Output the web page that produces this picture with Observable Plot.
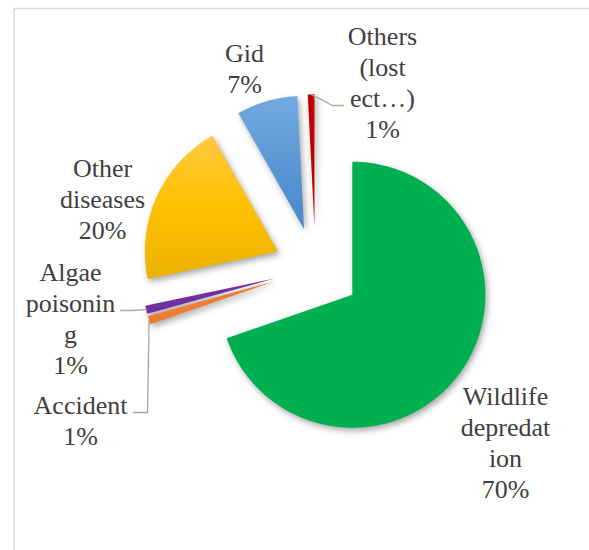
<!DOCTYPE html>
<html><head><meta charset="utf-8">
<script src="https://cdn.jsdelivr.net/npm/d3@7"></script>
<script src="https://cdn.jsdelivr.net/npm/@observablehq/plot@0.6"></script>
<style>body{margin:0;background:#fff;} #chart svg{display:block;} #chart svg text{font-family:"Liberation Serif","Times New Roman",serif !important;}</style>
</head><body><div id="chart"></div>
<script>
// ---- data ----
const categories = ["Wildlife depredation", "Accident", "Algae poisoning", "Other diseases", "Gid", "Others (lost ect…)"];
const values = [69.7, 1.0, 1.0, 20.1, 7.4, 0.8];
const labelLines = [["Wildlife", "depredat", "ion"], ["Accident"], ["Algae", "poisonin", "g"], ["Other", "diseases"], ["Gid"], ["Others", "(lost", "ect…)"]];

// ---- layout / style ----
const W = 589, H = 550;
const cx = 315, cy = 268, R = 133;
const explode = [0.34, 0.31, 0.31, 0.31, 0.31, 0.31];
const fills = ["#00B050", "#ED7D31", "#7030A0", "url(#gYellow)", "url(#gBlue)", "#C00000"];
const toU = ([px, py]) => ({x: (px - cx) / R, y: (cy - py) / R});
const labelAt = [[505, 440.7], [80, 418.7], [70, 316.7], [102, 197.7], [244, 67.2], [382, 81]];
const leaderBends = {1: [[147, 412], [133, 412]], 2: [[132, 310], [120, 310]], 5: [[332, 105], [343, 105]]};

const total = d3.sum(values);
const arcs = d3.pie().sort(null).value(d => d)(values);

const slicePts = [];
const leaderPts = [];
arcs.forEach((a, i) => {
  const mid = (a.startAngle + a.endAngle) / 2;
  const ax = explode[i] * Math.sin(mid), ay = explode[i] * Math.cos(mid);
  const cat = categories[i];
  slicePts.push({cat, x: ax, y: ay});
  const n = Math.max(2, Math.ceil((a.endAngle - a.startAngle) / (Math.PI / 360)));
  for (let k = 0; k <= n; k++) {
    const t = a.startAngle + (a.endAngle - a.startAngle) * k / n;
    slicePts.push({cat, x: ax + Math.sin(t), y: ay + Math.cos(t)});
  }
  slicePts.push({cat, x: ax, y: ay});
  if (leaderBends[i]) {
    leaderPts.push({cat, x: ax + Math.sin(mid), y: ay + Math.cos(mid)});
    leaderBends[i].forEach(p => leaderPts.push({cat, ...toU(p)}));
  }
});

const labels = categories.map((c, i) => ({
  ...toU(labelAt[i]),
  text: [...labelLines[i], Math.round(values[i] / total * 100) + "%"].join("\n")
}));

const chart = Plot.plot({
  width: W, height: H, margin: 0,
  style: {fontFamily: "'Liberation Serif', 'Times New Roman', serif"},
  x: {domain: [-cx / R, (W - cx) / R], axis: null},
  y: {domain: [-(H - cy) / R, cy / R], axis: null},
  color: {domain: categories, range: fills},
  marks: [
    Plot.line(slicePts, {x: "x", y: "y", z: "cat", fill: "cat", stroke: "none", curve: "linear"}),
    Plot.line(leaderPts, {x: "x", y: "y", z: "cat", stroke: "#A6A6A6", strokeWidth: 1.3}),
    Plot.text(labels, {x: "x", y: "y", text: "text", fontSize: 26, lineHeight: 31 / 26,
      fontFamily: "Liberation Serif", fill: "#404040", textAnchor: "middle"})
  ]
});

// gradients + shadow + chart-area border
const svg = d3.select(chart);
const defs = svg.insert("defs", ":first-child");
const grad = (id, stops) => {
  const g = defs.append("linearGradient").attr("id", id).attr("x1", 0).attr("y1", 0).attr("x2", 0).attr("y2", 1);
  stops.forEach(([o, c]) => g.append("stop").attr("offset", o).attr("stop-color", c));
};
grad("gYellow", [[0, "#FFC941"], [0.5, "#FFC000"], [1, "#EAB200"]]);
grad("gBlue", [[0, "#72AAE0"], [1, "#4686CA"]]);
svg.select('g[aria-label="line"]').style("filter", "drop-shadow(2px 3px 3px rgba(0,0,0,0.35))");
svg.append("path").attr("d", `M14,${H} V8.5 H${W}`).attr("fill", "none").attr("stroke", "#D9D9D9").attr("stroke-width", 1.5);

document.getElementById("chart").appendChild(chart);
</script>
</body></html>
